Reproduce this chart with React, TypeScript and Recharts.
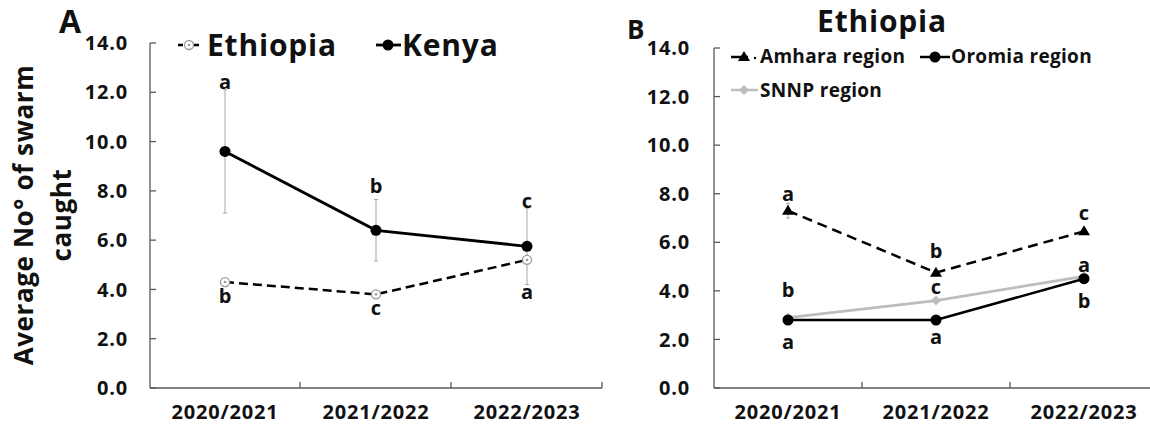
import React from 'react';
import { LineChart, Line, XAxis, YAxis, ErrorBar, ReferenceDot } from 'recharts';

const FONT = '"Open Sans", sans-serif';
const AXIS = '#595959';
const INK = '#111';
const GREY = '#bdbdbd';

const seasons = ['2020/2021', '2021/2022', '2022/2023'];
const yTicks = [0, 2, 4, 6, 8, 10, 12, 14];

// panel A
const ethiopiaMean = [4.3, 3.8, 5.2];
const ethiopiaErr = [0.12, 0.1, 0.12];
const kenyaMean = [9.6, 6.4, 5.75];
const kenyaErr = [2.5, 1.25, 1.55];
const ethiopiaLetters = ['b', 'c', 'a'];
const ethiopiaLetterY = [3.75, 3.25, 3.9];
const kenyaLetters = ['a', 'b', 'c'];
const kenyaLetterY = [12.4, 8.2, 7.6];

// panel B (Ethiopia regions)
const amharaMean = [7.3, 4.75, 6.45];
const amharaErr = [0.3, 0.1, 0.1];
const oromiaMean = [2.8, 2.8, 4.5];
const snnpMean = [2.9, 3.6, 4.6];
const amharaLetters = ['a', 'b', 'c'];
const amharaLetterY = [8.0, 5.65, 7.2];
const snnpLetters = ['b', 'c', 'a'];
const snnpLetterY = [4.05, 4.15, 5.05];
const oromiaLetters = ['a', 'a', 'b'];
const oromiaLetterY = [1.9, 2.1, 3.6];

const dataA = seasons.map((season, i) => ({
  season,
  ethiopia: ethiopiaMean[i],
  ethiopiaErr: ethiopiaErr[i],
  kenya: kenyaMean[i],
  kenyaErr: kenyaErr[i],
}));

const dataB = seasons.map((season, i) => ({
  season,
  amhara: amharaMean[i],
  amharaErr: amharaErr[i],
  oromia: oromiaMean[i],
  snnp: snnpMean[i],
}));

const OpenDot = (p: any) => {
  if (p.cx == null || p.cy == null) return null;
  return (
    <g key={'o' + p.index}>
      <circle cx={p.cx} cy={p.cy} r={4.5} fill="#fff" stroke="#9a9a9a" strokeWidth={1.3} />
      <circle cx={p.cx} cy={p.cy} r={1.3} fill="#9a9a9a" />
    </g>
  );
};

const BlackDot = (p: any) => {
  if (p.cx == null || p.cy == null) return null;
  return <circle key={'b' + p.index} cx={p.cx} cy={p.cy} r={5.5} fill="#000" />;
};

const Triangle = (p: any) => {
  if (p.cx == null || p.cy == null) return null;
  const { cx, cy } = p;
  return (
    <polygon
      key={'t' + p.index}
      points={`${cx},${cy - 6} ${cx - 6},${cy + 4} ${cx + 6},${cy + 4}`}
      fill="#000"
    />
  );
};

const Diamond = (p: any) => {
  if (p.cx == null || p.cy == null) return null;
  const { cx, cy } = p;
  return (
    <polygon
      key={'d' + p.index}
      points={`${cx},${cy - 5} ${cx + 5},${cy} ${cx},${cy + 5} ${cx - 5},${cy}`}
      fill={GREY}
    />
  );
};

const letterShape = (text: string) => (p: any) => (
  <text
    x={p.cx}
    y={p.cy}
    dy="0.35em"
    textAnchor="middle"
    fontFamily={FONT}
    fontWeight={700}
    fontSize={20}
    fill={INK}
  >
    {text}
  </text>
);

const letterDots = (letters: string[], ys: number[], prefix: string) =>
  letters.map((l, i) => (
    <ReferenceDot
      key={prefix + i}
      xAxisId="cat"
      yAxisId="v"
      x={seasons[i]}
      y={ys[i]}
      r={0}
      ifOverflow="visible"
      shape={letterShape(l)}
    />
  ));

const X_MARGIN = 17;
const Y_TICK = 6;

// category label + small upward tick at the right edge of its band
const xTick = (halfBand: number) => (p: any) => {
  const axisY = p.y - X_MARGIN;
  const bx = p.x + halfBand;
  return (
    <g>
      <line x1={bx} y1={axisY} x2={bx} y2={axisY - Y_TICK} stroke={AXIS} strokeWidth={1.3} />
      <text
        x={p.x}
        y={p.y}
        dy="0.71em"
        textAnchor="middle"
        fontFamily={FONT}
        fontWeight={700}
        fontSize={20}
        letterSpacing={0.8}
        fill={INK}
      >
        {p.payload.value}
      </text>
    </g>
  );
};

// value label + inward tick mark
const yTick = (gap: number) => (p: any) => {
  const axisX = p.x + gap;
  return (
    <g>
      <line x1={axisX} y1={p.y} x2={axisX + Y_TICK} y2={p.y} stroke={AXIS} strokeWidth={1.3} />
      <text
        x={p.x}
        y={p.y}
        dy="0.355em"
        textAnchor="end"
        fontFamily={FONT}
        fontWeight={700}
        fontSize={20}
        letterSpacing={0.8}
        fill={INK}
      >
        {Number(p.payload.value).toFixed(1)}
      </text>
    </g>
  );
};

const catAxis = (pad: number) => (
  <XAxis
    xAxisId="cat"
    dataKey="season"
    height={43}
    padding={{ left: pad, right: pad }}
    tickLine={false}
    tickSize={0}
    tickMargin={X_MARGIN}
    interval={0}
    axisLine={{ stroke: AXIS, strokeWidth: 1.3 }}
    tick={xTick(pad)}
  />
);

const valueAxis = (width: number, gap: number) => (
  <YAxis
    yAxisId="v"
    type="number"
    domain={[0, 14]}
    ticks={yTicks}
    interval={0}
    width={width}
    tickLine={false}
    tickSize={0}
    tickMargin={gap}
    axisLine={{ stroke: AXIS, strokeWidth: 1.3 }}
    tick={yTick(gap)}
  />
);

export default function App() {
  return (
    <div
      style={{
        position: 'fixed',
        left: 0,
        top: 0,
        width: 1150,
        height: 431,
        overflow: 'hidden',
        background: '#fff',
        fontFamily: FONT,
      }}
    >
      <div style={{ position: 'absolute', left: 0, top: 0 }}>
        <LineChart width={610} height={431} data={dataA} margin={{ top: 43, right: 8, bottom: 0, left: 0 }}>
          {catAxis(75)}
          {valueAxis(150, 22)}
          <Line
            xAxisId="cat"
            yAxisId="v"
            type="linear"
            dataKey="ethiopia"
            name="Ethiopia"
            stroke="#000"
            strokeWidth={2.5}
            strokeDasharray="9 5"
            dot={OpenDot}
            activeDot={false}
            isAnimationActive={false}
          >
            <ErrorBar dataKey="ethiopiaErr" direction="y" width={2} stroke="#a6a6a6" strokeWidth={1} />
          </Line>
          <Line
            xAxisId="cat"
            yAxisId="v"
            type="linear"
            dataKey="kenya"
            name="Kenya"
            stroke="#000"
            strokeWidth={2.8}
            dot={BlackDot}
            activeDot={false}
            isAnimationActive={false}
          >
            <ErrorBar dataKey="kenyaErr" direction="y" width={2} stroke="#a6a6a6" strokeWidth={1} />
          </Line>
          {letterDots(kenyaLetters, kenyaLetterY, 'k')}
          {letterDots(ethiopiaLetters, ethiopiaLetterY, 'e')}
        </LineChart>
      </div>

      <div style={{ position: 'absolute', left: 575, top: 0 }}>
        <LineChart width={590} height={431} data={dataB} margin={{ top: 48, right: 7, bottom: 0, left: 0 }}>
          {catAxis(74)}
          {valueAxis(139, 24)}
          <Line
            xAxisId="cat"
            yAxisId="v"
            type="linear"
            dataKey="snnp"
            name="SNNP region"
            stroke={GREY}
            strokeWidth={2.8}
            dot={Diamond}
            activeDot={false}
            isAnimationActive={false}
          />
          <Line
            xAxisId="cat"
            yAxisId="v"
            type="linear"
            dataKey="oromia"
            name="Oromia region"
            stroke="#000"
            strokeWidth={2.5}
            dot={BlackDot}
            activeDot={false}
            isAnimationActive={false}
          />
          <Line
            xAxisId="cat"
            yAxisId="v"
            type="linear"
            dataKey="amhara"
            name="Amhara region"
            stroke="#000"
            strokeWidth={2.5}
            strokeDasharray="10 6"
            dot={Triangle}
            activeDot={false}
            isAnimationActive={false}
          >
            <ErrorBar dataKey="amharaErr" direction="y" width={2} stroke="#a6a6a6" strokeWidth={1} />
          </Line>
          {letterDots(amharaLetters, amharaLetterY, 'a')}
          {letterDots(snnpLetters, snnpLetterY, 's')}
          {letterDots(oromiaLetters, oromiaLetterY, 'o')}
        </LineChart>
      </div>

      {/* panel letters, titles, legends */}
      <svg
        width={1150}
        height={431}
        style={{ position: 'absolute', left: 0, top: 0, pointerEvents: 'none' }}
        fontFamily={FONT}
        fontWeight={700}
      >
        <text x={59} y={33} fontSize={32} fill={INK}>A</text>
        <text x={627} y={39} fontSize={26} fill={INK}>B</text>
        <text x={882} y={32} fontSize={30} letterSpacing={0.8} textAnchor="middle" fill={INK}>Ethiopia</text>

        <text transform="translate(33,215) rotate(-90)" fontSize={26} letterSpacing={0.6} textAnchor="middle" fill={INK}>
          Average No° of swarm
        </text>
        <text transform="translate(71,215) rotate(-90)" fontSize={26} letterSpacing={0.6} textAnchor="middle" fill={INK}>
          caught
        </text>

        {/* legend A */}
        <line x1={178} y1={45} x2={200} y2={45} stroke="#000" strokeWidth={2.5} strokeDasharray="5 3" />
        <OpenDot cx={189} cy={45} index={0} />
        <text x={207} y={56} fontSize={30} letterSpacing={0.8} fill={INK}>Ethiopia</text>
        <line x1={376} y1={45} x2={401} y2={45} stroke="#000" strokeWidth={2.8} />
        <BlackDot cx={388} cy={45} index={0} />
        <text x={402} y={56} fontSize={30} letterSpacing={0.8} fill={INK}>Kenya</text>

        {/* legend B */}
        <line x1={731} y1={57} x2={748} y2={57} stroke="#000" strokeWidth={2.5} />
        <Triangle cx={744} cy={57} index={0} />
        <circle cx={755} cy={58} r={1.2} fill="#000" />
        <text x={760} y={63} fontSize={19} letterSpacing={0.3} fill={INK}>Amhara region</text>
        <line x1={920} y1={57} x2={950} y2={57} stroke="#000" strokeWidth={2.5} />
        <BlackDot cx={935} cy={57} index={0} />
        <text x={951} y={63} fontSize={19} letterSpacing={0.3} fill={INK}>Oromia region</text>
        <line x1={731} y1={90} x2={758} y2={90} stroke={GREY} strokeWidth={2.5} />
        <Diamond cx={744} cy={90} index={0} />
        <text x={760} y={97} fontSize={19} letterSpacing={0.3} fill={INK}>SNNP region</text>
      </svg>
    </div>
  );
}
